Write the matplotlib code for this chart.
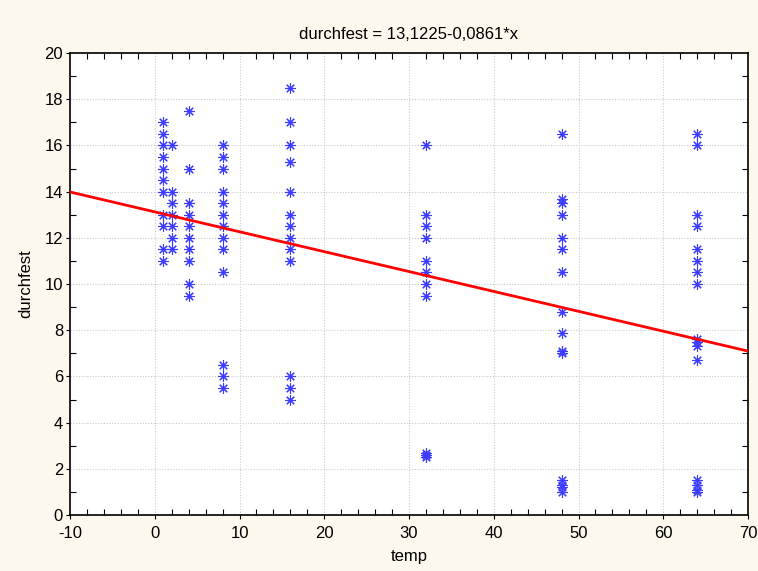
import matplotlib
matplotlib.use("Agg")
import matplotlib.pyplot as plt
from matplotlib.ticker import MultipleLocator
import numpy as np

plt.rcParams['font.family'] = ['Liberation Sans', 'DejaVu Sans']
plt.rcParams['axes.unicode_minus'] = False

temps = [1, 2, 4, 8, 16, 32, 48, 64]
durchfest_by_temp = {
    1: [17, 16.5, 16, 15.5, 15, 14.5, 14, 13, 12.5, 11.5, 11],
    2: [16, 14, 13.5, 13, 12.5, 12, 11.5],
    4: [17.5, 15, 13.5, 13, 12.5, 12, 11.5, 11, 10, 9.5],
    8: [16, 15.5, 15, 14, 13.5, 13, 12.5, 12, 11.5, 10.5, 6.5, 6, 5.5],
    16: [18.5, 17, 16, 15.3, 14, 13, 12.5, 12, 11.5, 11, 6, 5.5, 5],
    32: [16, 13, 12.5, 12, 11, 10.5, 10, 9.5, 2.7, 2.6, 2.5],
    48: [16.5, 13.7, 13.5, 13, 12, 11.5, 10.5, 8.8, 7.9, 7.1, 7.0, 1.5, 1.3, 1.2, 1.0],
    64: [16.5, 16, 13, 12.5, 11.5, 11, 10.5, 10, 7.6, 7.5, 7.3, 6.7, 1.5, 1.3, 1.1, 1.0],
}
intercept = 13.1225
slope = -0.0861
x_range = [-10, 70]

xs = []
ys = []
for t in temps:
    for v in durchfest_by_temp[t]:
        xs.append(t)
        ys.append(v)

bg = '#fdf8ee'
fig = plt.figure(figsize=(7.58, 5.71), dpi=100, facecolor=bg)
ax = fig.add_axes([70/758, 1-515/571, 678/758, 462/571])
ax.set_facecolor('white')

ax.grid(True, which='major', color='#cccccc', linestyle=(0, (1, 1.5)), linewidth=0.8)
ax.set_axisbelow(True)

ax.plot(xs, ys, linestyle='none', marker=(8, 2, 0), markersize=7.5,
        markeredgewidth=0.8, color='#3c3cff', zorder=3)

lx = np.array(x_range, dtype=float)
ax.plot(lx, intercept + slope * lx, color='#ff0000', linewidth=2.0, zorder=4)

ax.set_xlim(-10, 70)
ax.set_ylim(0, 20)
ax.xaxis.set_major_locator(MultipleLocator(10))
ax.xaxis.set_minor_locator(MultipleLocator(2))
ax.yaxis.set_major_locator(MultipleLocator(2))
ax.yaxis.set_minor_locator(MultipleLocator(1))

ax.tick_params(which='major', direction='out', length=3, width=0.8,
               labelsize=12, pad=2, top=False, right=False)
ax.tick_params(axis='x', which='major', pad=5)
ax.tick_params(which='minor', direction='in', length=4, width=0.8,
               top=True, right=True)
for s in ax.spines.values():
    s.set_linewidth(1.2)
    s.set_color('black')

ax.set_title('durchfest = 13,1225-0,0861*x', fontsize=12, pad=10)
ax.set_xlabel('temp', fontsize=12, labelpad=6)
ax.set_ylabel('durchfest', fontsize=12, labelpad=8)

fig.savefig('out.png', dpi=100, facecolor=bg)
